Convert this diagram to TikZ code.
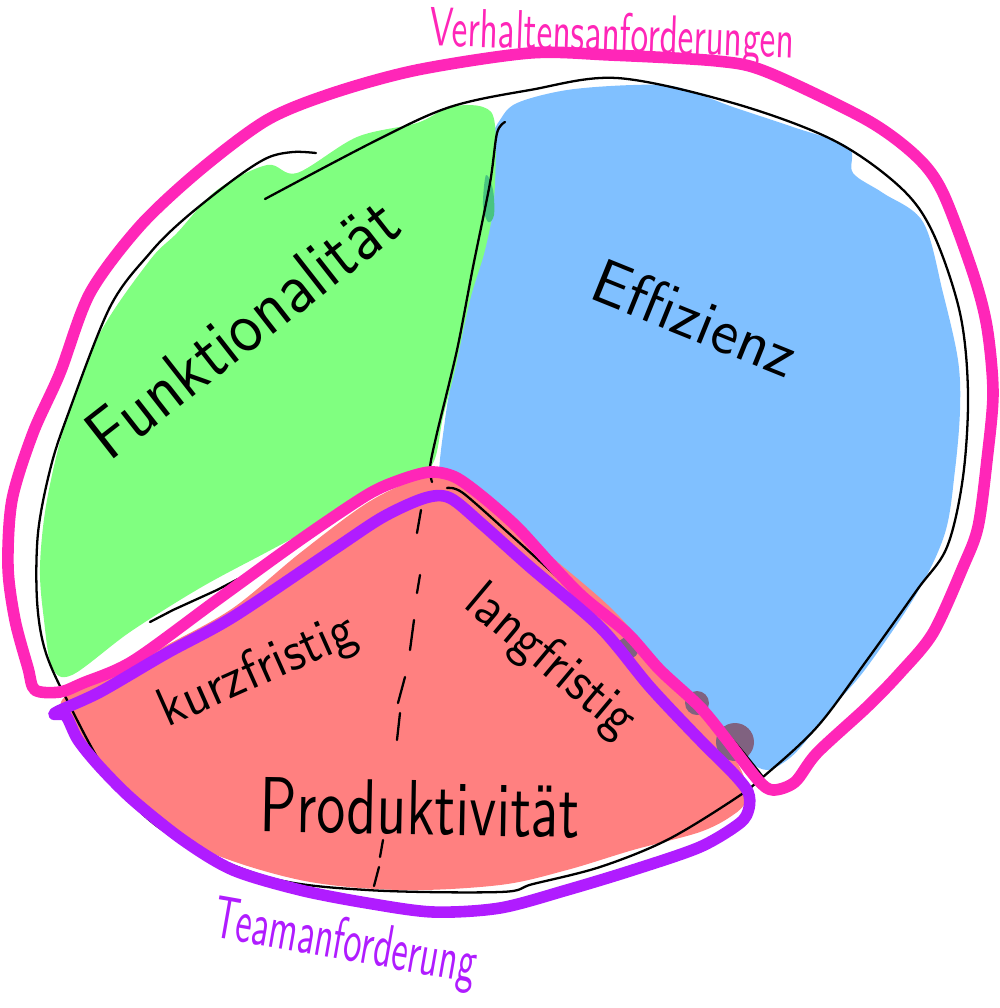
\documentclass[tikz,border=0pt]{standalone}
\usepackage{fontspec}
\usepackage{graphicx}
\definecolor{pinkL}{RGB}{255,38,184}
\definecolor{purpL}{RGB}{176,28,255}
\definecolor{greenF}{RGB}{128,255,128}
\definecolor{blueF}{RGB}{128,192,255}
\definecolor{redF}{RGB}{255,128,128}
\definecolor{overF}{RGB}{128,98,128}
\definecolor{tintF}{RGB}{72,196,128}
\tikzset{
  blob/.style={smooth cycle, tension=0.55},
  loopline/.style={line width=3.3pt, line cap=round, line join=round},
  inkline/.style={black, line width=0.65pt, line cap=round},
  hand/.style={inner sep=0pt, font=\sffamily}
}
\begin{document}
\begin{tikzpicture}[x=0.01cm,y=-0.01cm]
\useasboundingbox (0,0) rectangle (1000,1008);

% fills
\fill[blueF] plot[blob] coordinates {(500,120) (517,103) (567,90) (633,85) (677,87) (733,107) (793,127) (848,147) (853,173) (883,193) (923,222) (943,293) (958,360) (960,410) (955,470) (945,533) (917,593) (867,667) (833,707) (800,748) (783,763) (767,770) (750,762) (730,737) (680,687) (630,637) (580,597) (513,537) (463,495) (440,482) (445,420) (457,350) (472,280) (485,200) (492,140)};
\fill[greenF] plot[blob] coordinates {(150,260) (177,233) (217,190) (267,165) (297,173) (357,137) (417,123) (450,107) (483,107) (495,125) (494,200) (485,250) (470,300) (455,370) (443,417) (432,465) (400,482) (333,517) (267,552) (200,588) (130,632) (72,675) (52,667) (44,620) (40,567) (47,500) (67,417) (100,333)};
\fill[tintF] plot[blob] coordinates {(486,175) (493,190) (494,215) (488,222) (483,205)};
\fill[redF] plot[blob] coordinates {(62,700) (100,680) (167,645) (233,608) (300,553) (367,503) (417,479) (440,477) (463,486) (513,522) (547,553) (613,610) (663,668) (713,727) (742,772) (746,800) (733,815) (700,832) (633,850) (567,870) (500,885) (400,890) (300,880) (200,848) (133,800) (95,760) (70,722)};
\fill[overF] (735,742) circle (19);
\fill[overF] (628,648) circle (11);
\fill[overF] (697,703) circle (12);

% outline
\draw[inkline] plot[smooth, tension=0.55] coordinates {(316,153) (293,152) (267,158) (233,180) (183,220) (150,253) (110,307) (67,417) (50,470) (38,533) (37,600) (45,650) (67,700) (110,777) (167,833) (267,877) (367,890) (500,892) (533,884) (600,867) (667,840) (733,800) (763,777) (817,727) (867,660) (917,590) (947,547) (963,477) (968,393) (960,313) (933,233) (900,187) (833,140) (733,103) (617,78) (530,90) (450,107) (377,140) (265,199)};

% dividers
\draw[inkline] plot[smooth, tension=0.5] coordinates {(505,122) (497,133) (490,183) (473,267) (457,350) (437,433) (430,467) (432,482)};
\draw[inkline] plot[smooth, tension=0.5] coordinates {(447,488) (463,493) (513,537) (580,597) (630,637) (680,687) (730,737) (763,777)};
\draw[inkline] (150,622) -- (173,610) -- (217,590) -- (238,579);

% dashed divider
\draw[inkline] (421,510) -- (417,533);
\draw[inkline] (420,575) -- (417,593);
\draw[inkline] (414,620) -- (410,650);
\draw[inkline] (405,677) -- (398,703);
\draw[inkline] (400,713) -- (397,740);
\draw[inkline] (383,840) -- (380,857);
\draw[inkline] (379,867) -- (374,886);

% pink loop
\draw[loopline, pinkL] plot[smooth cycle, tension=0.5] coordinates {(35,690) (28,668) (15,620) (8,567) (12,500) (33,433) (60,373) (90,293) (140,226) (200,170) (267,120) (333,93) (417,70) (530,53) (610,55) (717,61) (767,72) (867,120) (917,157) (943,193) (973,273) (987,327) (993,393) (987,460) (978,527) (963,567) (933,633) (900,673) (867,707) (817,753) (795,782) (773,790) (758,780) (727,740) (700,707) (660,670) (627,633) (583,597) (550,563) (517,527) (483,497) (455,477) (430,472) (400,480) (367,495) (300,540) (217,600) (133,661) (83,683) (60,692)};

% purple loop
\draw[loopline, purpL] plot[smooth cycle, tension=0.5] coordinates {(55,713) (100,692) (167,653) (233,617) (333,550) (383,517) (425,498) (450,498) (483,525) (530,567) (600,627) (650,687) (700,740) (733,773) (748,792) (749,808) (740,823) (700,847) (633,870) (567,890) (500,908) (433,912) (367,903) (300,890) (233,870) (183,840) (133,800) (100,767) (78,740) (66,716)};

% texts
\node[hand, pinkL, rotate=-2] (verh) at (612,38) {\resizebox*{3.65cm}{0.5cm}{Verhaltensanforderungen}};
\node[hand, rotate=38] (funk) at (242,328) {\resizebox*{3.75cm}{0.5cm}{Funktionalität}};
\node[hand, rotate=-22] (effi) at (695,318) {\resizebox*{2.15cm}{0.45cm}{Effizienz}};
\node[hand, rotate=24] (kurz) at (258,672) {\resizebox*{2.1cm}{0.5cm}{kurzfristig}};
\node[hand, rotate=-40] (lang) at (550,662) {\resizebox*{2.05cm}{0.5cm}{langfristig}};
\node[hand, rotate=-1] (prod) at (420,808) {\resizebox*{3.2cm}{0.55cm}{Produktivität}};
\node[hand, purpL, rotate=-10] (team) at (345,945) {\resizebox*{2.65cm}{0.55cm}{Teamanforderung}};
\end{tikzpicture}
\end{document}
